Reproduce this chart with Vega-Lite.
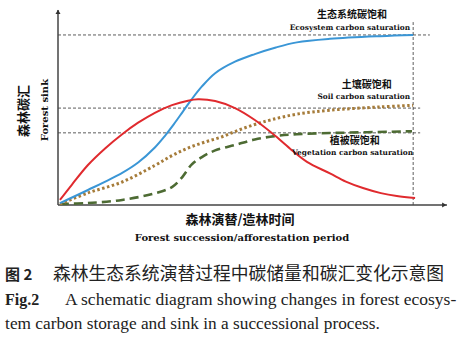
{
  "$schema": "https://vega.github.io/schema/vega-lite/v6.json",
  "width": 389,
  "height": 195,
  "autosize": "none",
  "padding": {"left": 58, "top": 10, "right": 20, "bottom": 145},
  "background": "white",
  "config": {"view": {"stroke": null}},
  "datasets": {
    "curves": [
      {"series": "ecosystem", "t": 0.5, "c": 1},
      {"series": "ecosystem", "t": 7.7, "c": 7.7},
      {"series": "ecosystem", "t": 16.5, "c": 16.5},
      {"series": "ecosystem", "t": 20.6, "c": 21.8},
      {"series": "ecosystem", "t": 24.9, "c": 29.5},
      {"series": "ecosystem", "t": 27.5, "c": 35.5},
      {"series": "ecosystem", "t": 29.8, "c": 41.5},
      {"series": "ecosystem", "t": 32.1, "c": 47.9},
      {"series": "ecosystem", "t": 34.4, "c": 54.3},
      {"series": "ecosystem", "t": 37, "c": 60.8},
      {"series": "ecosystem", "t": 40.4, "c": 67.6},
      {"series": "ecosystem", "t": 45.5, "c": 73.5},
      {"series": "ecosystem", "t": 50.6, "c": 77.4},
      {"series": "ecosystem", "t": 56, "c": 80.8},
      {"series": "ecosystem", "t": 61.4, "c": 83.4},
      {"series": "ecosystem", "t": 69.9, "c": 85.2},
      {"series": "ecosystem", "t": 82.8, "c": 86.6},
      {"series": "ecosystem", "t": 91.3, "c": 87.2},
      {"series": "sink", "t": 0.5, "c": 2.6},
      {"series": "sink", "t": 3.6, "c": 10.5},
      {"series": "sink", "t": 7.7, "c": 20.5},
      {"series": "sink", "t": 12.1, "c": 29},
      {"series": "sink", "t": 16.5, "c": 36.3},
      {"series": "sink", "t": 20.6, "c": 42.2},
      {"series": "sink", "t": 24.9, "c": 47.3},
      {"series": "sink", "t": 29.3, "c": 51.2},
      {"series": "sink", "t": 33.4, "c": 53.5},
      {"series": "sink", "t": 36, "c": 54.2},
      {"series": "sink", "t": 40.4, "c": 53.3},
      {"series": "sink", "t": 45.5, "c": 49.7},
      {"series": "sink", "t": 50.6, "c": 43.6},
      {"series": "sink", "t": 55.3, "c": 36.4},
      {"series": "sink", "t": 59.6, "c": 29},
      {"series": "sink", "t": 64, "c": 22.1},
      {"series": "sink", "t": 69.9, "c": 16.2},
      {"series": "sink", "t": 74, "c": 12},
      {"series": "sink", "t": 78.4, "c": 8.7},
      {"series": "sink", "t": 83, "c": 6.1},
      {"series": "sink", "t": 87.1, "c": 4.6},
      {"series": "sink", "t": 91.8, "c": 3.6},
      {"series": "soil", "t": 0.5, "c": 0.5},
      {"series": "soil", "t": 7.7, "c": 6.2},
      {"series": "soil", "t": 16.5, "c": 11.8},
      {"series": "soil", "t": 24.9, "c": 20.3},
      {"series": "soil", "t": 29.3, "c": 25.3},
      {"series": "soil", "t": 33.4, "c": 29.2},
      {"series": "soil", "t": 37.8, "c": 32.3},
      {"series": "soil", "t": 42.2, "c": 35},
      {"series": "soil", "t": 46.3, "c": 38.3},
      {"series": "soil", "t": 50.6, "c": 41.3},
      {"series": "soil", "t": 55, "c": 43.8},
      {"series": "soil", "t": 61.4, "c": 46.6},
      {"series": "soil", "t": 69.9, "c": 48.6},
      {"series": "soil", "t": 82.8, "c": 50.3},
      {"series": "soil", "t": 91.3, "c": 51.1},
      {"series": "vegetation", "t": 0.5, "c": 0.5},
      {"series": "vegetation", "t": 7.7, "c": 1},
      {"series": "vegetation", "t": 16.5, "c": 2.6},
      {"series": "vegetation", "t": 24.9, "c": 6},
      {"series": "vegetation", "t": 29.3, "c": 9.2},
      {"series": "vegetation", "t": 31.9, "c": 14.2},
      {"series": "vegetation", "t": 34.4, "c": 20.8},
      {"series": "vegetation", "t": 37, "c": 24.6},
      {"series": "vegetation", "t": 40.4, "c": 28},
      {"series": "vegetation", "t": 45.5, "c": 30.8},
      {"series": "vegetation", "t": 50.6, "c": 33.6},
      {"series": "vegetation", "t": 56, "c": 35.4},
      {"series": "vegetation", "t": 61.4, "c": 36.3},
      {"series": "vegetation", "t": 69.9, "c": 36.9},
      {"series": "vegetation", "t": 91, "c": 37.8}
    ],
    "saturation": [
      {"level": "ecosystem", "t": 0, "t2": 95.6, "c": 87.2},
      {"level": "soil", "t": 0, "t2": 93.1, "c": 49.7},
      {"level": "vegetation", "t": 0, "t2": 93.1, "c": 37}
    ],
    "frame": [
      {"t": 0, "t2": 0, "c": 0, "c2": 100},
      {"t": 0, "t2": 100, "c": 0, "c2": 0}
    ],
    "zhLabels": [
      {"text": "生态系统碳饱和", "t": 75.6, "c": 97.4},
      {"text": "土壤碳饱和", "t": 79.4, "c": 61.5},
      {"text": "植被碳饱和", "t": 76.3, "c": 32.8}
    ],
    "enLabels": [
      {"text": "Ecosystem carbon saturation", "t": 90.5, "c": 90.8},
      {"text": "Soil carbon saturation", "t": 90.5, "c": 55.4},
      {"text": "Vegetation carbon saturation", "t": 91.3, "c": 26.7}
    ]
  },
  "encoding": {
    "x": {"field": "t", "type": "quantitative", "scale": {"domain": [0, 100], "nice": false, "zero": false}, "axis": null},
    "y": {"field": "c", "type": "quantitative", "scale": {"domain": [0, 100], "nice": false, "zero": false}, "axis": null}
  },
  "layer": [
    {
      "data": {"name": "saturation"},
      "mark": {"type": "rule", "color": "#333333", "strokeWidth": 0.8, "strokeDash": [3, 2]},
      "encoding": {"x2": {"field": "t2"}}
    },
    {
      "data": {"values": [{"t": 91.3, "c": 0, "c2": 93.8}]},
      "mark": {"type": "rule", "color": "#333333", "strokeWidth": 0.8, "strokeDash": [3, 2]},
      "encoding": {"y2": {"field": "c2"}}
    },
    {
      "data": {"name": "frame"},
      "mark": {"type": "rule", "color": "#444444", "strokeWidth": 1.5},
      "encoding": {"x2": {"field": "t2"}, "y2": {"field": "c2"}}
    },
    {
      "data": {"values": [{"t": 0, "c": 99}]},
      "mark": {"type": "point", "shape": "triangle-up", "filled": true, "color": "#333333", "size": 25, "opacity": 1}
    },
    {
      "data": {"values": [{"t": 99.3, "c": 0}]},
      "mark": {"type": "point", "shape": "triangle-right", "filled": true, "color": "#333333", "size": 25, "opacity": 1}
    },
    {
      "data": {"name": "curves"},
      "transform": [{"filter": "datum.series === 'vegetation'"}],
      "mark": {"type": "line", "color": "#4d6b33", "strokeWidth": 2.6, "strokeDash": [9, 5], "interpolate": "catmull-rom"}
    },
    {
      "data": {"name": "curves"},
      "transform": [{"filter": "datum.series === 'soil'"}],
      "mark": {"type": "line", "color": "#a67c3a", "strokeWidth": 3, "strokeDash": [2.5, 2.5], "interpolate": "catmull-rom"}
    },
    {
      "data": {"name": "curves"},
      "transform": [{"filter": "datum.series === 'ecosystem'"}],
      "mark": {"type": "line", "color": "#3a96d6", "strokeWidth": 2, "interpolate": "catmull-rom"}
    },
    {
      "data": {"name": "curves"},
      "transform": [{"filter": "datum.series === 'sink'"}],
      "mark": {"type": "line", "color": "#e02a2e", "strokeWidth": 2, "interpolate": "catmull-rom"}
    },
    {
      "data": {"name": "zhLabels"},
      "mark": {"type": "text", "font": "Noto Sans CJK SC", "fontWeight": "bold", "fontSize": 10, "align": "center", "baseline": "middle", "color": "#111111"},
      "encoding": {"text": {"field": "text"}}
    },
    {
      "data": {"name": "enLabels"},
      "mark": {"type": "text", "font": "DejaVu Serif", "fontWeight": "bold", "fontSize": 7.4, "align": "right", "baseline": "middle", "color": "#111111"},
      "encoding": {"text": {"field": "text"}}
    },
    {
      "data": {"values": [{"text": "森林碳汇", "t": -8.7, "c": 48.2}]},
      "mark": {"type": "text", "font": "Noto Sans CJK SC", "fontWeight": "bold", "fontSize": 13, "angle": 270, "align": "center", "baseline": "middle", "color": "#111111"},
      "encoding": {"text": {"field": "text"}}
    },
    {
      "data": {"values": [{"text": "Forest sink", "t": -3.3, "c": 48.7}]},
      "mark": {"type": "text", "font": "DejaVu Serif", "fontWeight": "bold", "fontSize": 10, "angle": 270, "align": "center", "baseline": "middle", "color": "#111111"},
      "encoding": {"text": {"field": "text"}}
    },
    {
      "data": {"values": [{"text": "森林演替/造林时间", "t": 46.8, "c": -7.7}]},
      "mark": {"type": "text", "font": "Noto Sans CJK SC", "fontWeight": "bold", "fontSize": 13, "align": "center", "baseline": "middle", "color": "#111111"},
      "encoding": {"text": {"field": "text"}}
    },
    {
      "data": {"values": [{"text": "Forest succession/afforestation period", "t": 47.3, "c": -16.9}]},
      "mark": {"type": "text", "font": "DejaVu Serif", "fontWeight": "bold", "fontSize": 10, "align": "center", "baseline": "middle", "color": "#111111"},
      "encoding": {"text": {"field": "text"}}
    },
    {
      "data": {"values": [{"text": "图 2", "t": -13.6, "c": -35.9}]},
      "mark": {"type": "text", "font": "Noto Sans CJK SC", "fontWeight": "bold", "fontSize": 15, "align": "left", "baseline": "middle", "color": "#222222"},
      "encoding": {"text": {"field": "text"}}
    },
    {
      "data": {"values": [{"text": "森林生态系统演替过程中碳储量和碳汇变化示意图", "t": -1.3, "c": -35.9}]},
      "mark": {"type": "text", "font": "Noto Sans CJK SC", "fontWeight": "normal", "fontSize": 17.8, "align": "left", "baseline": "middle", "color": "#222222"},
      "encoding": {"text": {"field": "text"}}
    },
    {
      "data": {"values": [{"text": "Fig.2", "t": -13.6, "c": -48.7}]},
      "mark": {"type": "text", "font": "Liberation Serif", "fontWeight": "bold", "fontSize": 16, "align": "left", "baseline": "middle", "color": "#222222"},
      "encoding": {"text": {"field": "text"}}
    },
    {
      "data": {"values": [{"text": "A schematic diagram showing changes in forest ecosys-", "t": 1.8, "c": -48.7}]},
      "mark": {"type": "text", "font": "Liberation Serif", "fontSize": 17.5, "align": "left", "baseline": "middle", "color": "#222222"},
      "encoding": {"text": {"field": "text"}}
    },
    {
      "data": {"values": [{"text": "tem carbon storage and sink in a successional process.", "t": -13.6, "c": -61.0}]},
      "mark": {"type": "text", "font": "Liberation Serif", "fontSize": 17.3, "align": "left", "baseline": "middle", "color": "#222222"},
      "encoding": {"text": {"field": "text"}}
    }
  ]
}
